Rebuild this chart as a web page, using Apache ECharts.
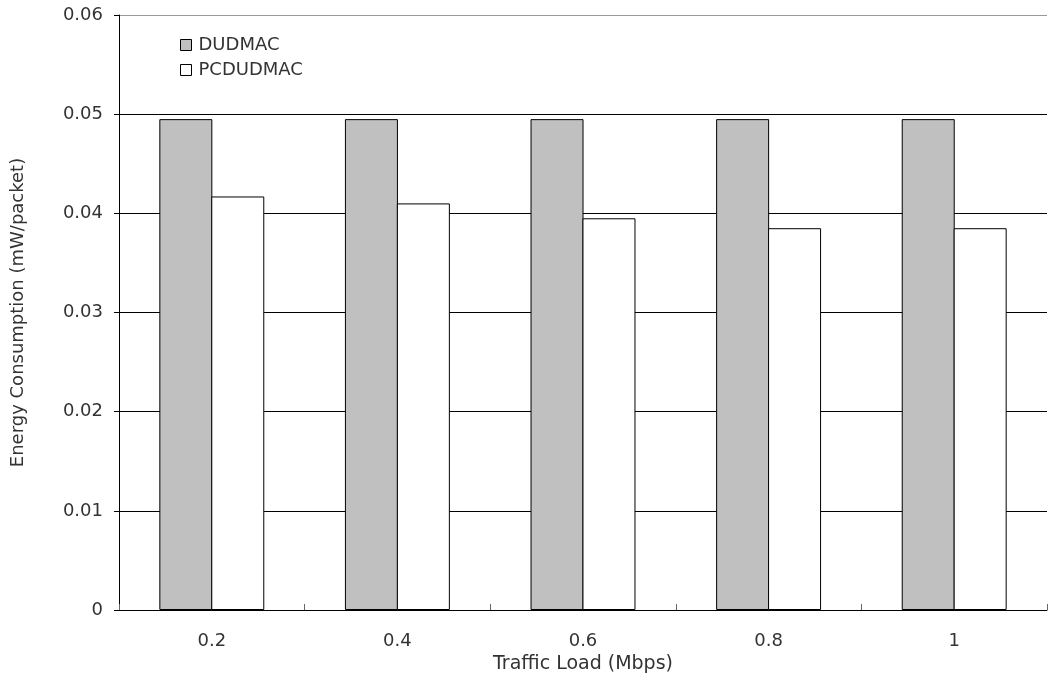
<!DOCTYPE html>
<html>
<head>
<meta charset="utf-8">
<script src="https://cdn.jsdelivr.net/npm/echarts@6/dist/echarts.min.js"></script>
<style>
  html, body { margin: 0; padding: 0; background: #fff; }
  #chart { width: 1049px; height: 681px; }
</style>
</head>
<body>
<div id="chart"></div>
<script>
// Traffic load categories (Mbps)
const trafficLoads = ['0.2', '0.4', '0.6', '0.8', '1'];
// Energy consumption per packet (mW/packet)
const dudmac = [0.0495, 0.0495, 0.0495, 0.0495, 0.0495];
const pcdudmac = [0.0417, 0.0410, 0.0395, 0.0385, 0.0385];
const seriesNames = ['DUDMAC', 'PCDUDMAC'];

const FONT = 'DejaVu Sans';
const TEXT = '#333';

const chart = echarts.init(document.getElementById('chart'), null, { renderer: 'canvas' });

chart.setOption({
  animation: false,
  backgroundColor: '#fff',
  grid: { left: 119, right: 2, top: 15, bottom: 71, containLabel: false },
  legend: {
    orient: 'vertical',
    left: 175,
    top: 31,
    itemWidth: 11,
    itemHeight: 11,
    itemGap: 7,
    icon: 'rect',
    data: seriesNames,
    itemStyle: { borderWidth: 1, borderColor: '#000' },
    textStyle: { fontFamily: FONT, fontSize: 18, color: TEXT, padding: [0, 0, 0, 2] }
  },
  xAxis: {
    type: 'category',
    data: trafficLoads,
    name: 'Traffic Load (Mbps)',
    nameLocation: 'middle',
    nameGap: 34,
    nameTextStyle: { fontFamily: FONT, fontSize: 19, color: TEXT },
    axisLine: { lineStyle: { color: '#000', width: 1 } },
    axisTick: { show: true, inside: true, length: 6, lineStyle: { color: '#666' } },
    axisLabel: { fontFamily: FONT, fontSize: 18, color: TEXT, margin: 22 },
    splitLine: { show: false }
  },
  yAxis: {
    type: 'value',
    min: 0,
    max: 0.06,
    interval: 0.01,
    name: 'Energy Consumption (mW/packet)',
    nameLocation: 'middle',
    nameGap: 92,
    nameTextStyle: { fontFamily: FONT, fontSize: 18, color: TEXT },
    axisLine: { show: true, lineStyle: { color: '#000', width: 1 } },
    axisTick: { show: true, length: 5, lineStyle: { color: '#000' } },
    axisLabel: {
      fontFamily: FONT, fontSize: 18, color: TEXT, margin: 16,
      formatter: v => String(+v.toFixed(2))
    },
    splitLine: {
      show: true,
      lineStyle: { color: ['#000', '#000', '#000', '#000', '#000', '#000', '#999'], width: 1 }
    }
  },
  series: [
    {
      name: seriesNames[0],
      type: 'bar',
      data: dudmac,
      barWidth: 53,
      barGap: '-2%',
      itemStyle: { color: '#c0c0c0', borderColor: '#000', borderWidth: 1 }
    },
    {
      name: seriesNames[1],
      type: 'bar',
      data: pcdudmac,
      barWidth: 53,
      barGap: '-2%',
      itemStyle: { color: '#fff', borderColor: '#000', borderWidth: 1 }
    }
  ]
});
</script>
</body>
</html>
